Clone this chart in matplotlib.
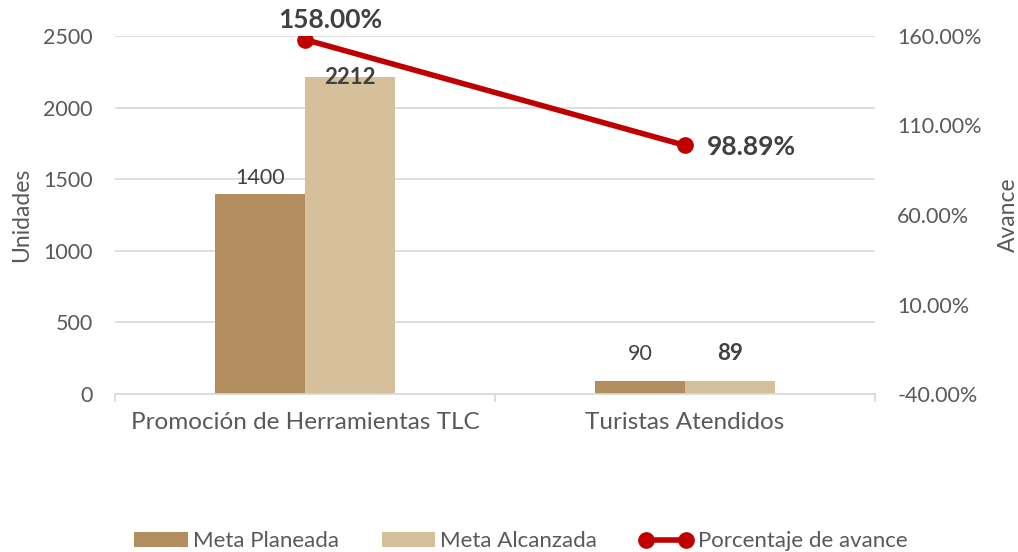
import numpy as np
import matplotlib.pyplot as plt
from matplotlib.ticker import FuncFormatter, FixedLocator

plt.rcParams['font.family'] = ['Lato', 'DejaVu Sans']

categorias = ["Promoción de Herramientas TLC", "Turistas Atendidos"]
meta_planeada = [1400, 90]
meta_alcanzada = [2212, 89]
avance = [1.58, 0.9889]

c_plan = "#B28D5E"
c_alc = "#D5C09B"
c_line = "#C00000"
gris = "#595959"

fig = plt.figure(figsize=(10.18, 5.52), dpi=100)
ax = fig.add_axes([0.113, 0.2862, 0.7465, 0.6486])
ax2 = ax.twinx()

x = np.arange(len(categorias))
w = 0.237
b1 = ax.bar(x - w / 2, meta_planeada, w, color=c_plan, label="Meta Planeada", zorder=2)
b2 = ax.bar(x + w / 2, meta_alcanzada, w, color=c_alc, label="Meta Alcanzada", zorder=2)

ax.set_xlim(-0.5, 1.5)
ax.set_ylim(0, 2500)
ax.set_yticks(np.arange(0, 2501, 500))
ax.grid(axis="y", color="#D9D9D9", linewidth=1.2, zorder=0)
ax.set_axisbelow(True)
ax.set_xticks(x)
ax.set_xticklabels(categorias, fontsize=17.5, color=gris)
ax.xaxis.set_minor_locator(FixedLocator([-0.5, 0.5, 1.5]))
ax.tick_params(axis="x", which="major", length=0, pad=13)
ax.tick_params(axis="x", which="minor", length=6, color="#D9D9D9", width=1.2)
ax.tick_params(axis="y", length=0, labelsize=15.5, labelcolor=gris, pad=16)
for s in ["top", "left", "right"]:
    ax.spines[s].set_visible(False)
    ax2.spines[s].set_visible(False)
ax.spines["bottom"].set_color("#D9D9D9")
ax.spines["bottom"].set_linewidth(1.2)
ax2.spines["bottom"].set_visible(False)
ax.set_ylabel("Unidades", fontsize=16.5, color=gris, labelpad=8)

# etiquetas de barras
ax.text(x[0] - w / 2, meta_planeada[0] + 40, "1400", ha="center", va="bottom", fontsize=15.5, color="#404040")
ax.text(x[0] + w / 2, meta_alcanzada[0], "2212", ha="center", va="center", fontsize=16, color="#404040", fontweight="bold")
ax.text(x[1] - w / 2, meta_planeada[1] + 120, "90", ha="center", va="bottom", fontsize=15.5, color="#404040")
ax.text(x[1] + w / 2, meta_alcanzada[1] + 120, "89", ha="center", va="bottom", fontsize=16, color="#404040", fontweight="bold")

ln, = ax2.plot(x, avance, color=c_line, linewidth=4, marker="o", markersize=11,
               label="Porcentaje de avance", zorder=3)
ax2.set_ylim(-0.4, 1.6)
ax2.set_yticks(np.arange(-0.4, 1.61, 0.5))
ax2.yaxis.set_major_formatter(FuncFormatter(lambda v, p: f"{v*100:.2f}%"))
ax2.tick_params(axis="y", length=0, labelsize=15.5, labelcolor=gris, pad=16)
ax2.set_ylabel("Avance", fontsize=16.5, color=gris, labelpad=12)

ax2.annotate("158.00%", (x[0], avance[0]), xytext=(18, 14), textcoords="offset points",
             ha="center", va="center", fontsize=19, fontweight="bold", color="#404040")
ax2.annotate("98.89%", (x[1], avance[1]), xytext=(16, -1), textcoords="offset points",
             ha="left", va="center", fontsize=19, fontweight="bold", color="#404040")

handles = [b1, b2, ln]
leg = fig.legend(handles, [h.get_label() for h in handles], loc="lower center",
                 bbox_to_anchor=(0.512, -0.035), ncol=3, frameon=False, fontsize=16,
                 handlelength=2.4, handleheight=0.6, columnspacing=1.9, handletextpad=0.25,
                 numpoints=2)
for t in leg.get_texts():
    t.set_color(gris)

fig.savefig("out.png", dpi=100)
